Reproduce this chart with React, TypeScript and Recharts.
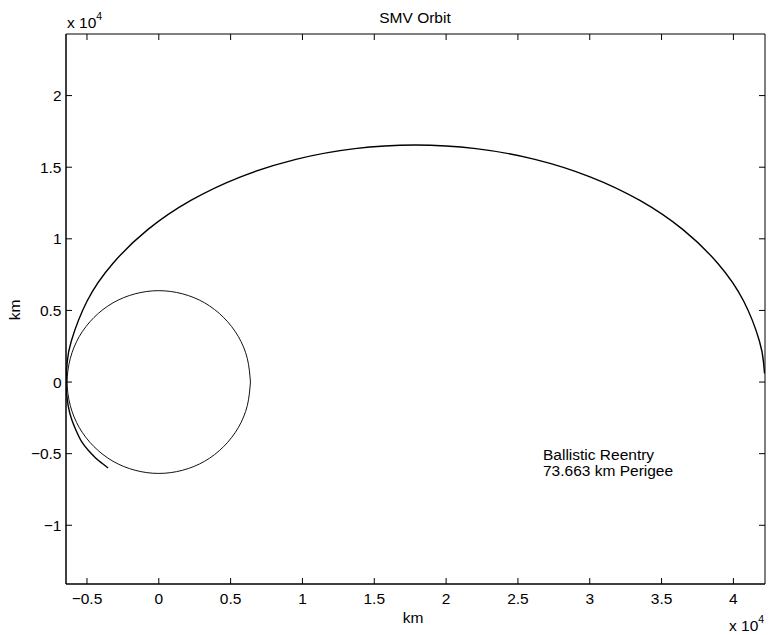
import { LineChart, Line, XAxis, YAxis, ReferenceArea } from 'recharts';

// orbit track (x 10^4 km), from near apogee over the top, through perigee, down the reentry tail
const orbitX = [4.217, 4.209, 4.181, 4.071, 3.892, 3.649, 3.349, 3.002, 2.618, 2.208, 1.786, 1.364, 0.954, 0.57, 0.223, -0.077, -0.32, -0.499, -0.609, -0.637, -0.646, -0.642, -0.63, -0.607, -0.575, -0.535, -0.488, -0.44, -0.395, -0.353];
const orbitY = [0.06, 0.144, 0.287, 0.566, 0.828, 1.064, 1.268, 1.433, 1.555, 1.63, 1.655, 1.63, 1.555, 1.433, 1.268, 1.064, 0.828, 0.566, 0.287, 0.144, 0, -0.08, -0.17, -0.26, -0.34, -0.42, -0.48, -0.53, -0.567, -0.6];

// earth outline (x 10^4 km)
const earthX = [0.638, 0.616, 0.553, 0.451, 0.319, 0.165, 0, -0.165, -0.319, -0.451, -0.553, -0.616, -0.638, -0.616, -0.553, -0.451, -0.319, -0.165, 0, 0.165, 0.319, 0.451, 0.553, 0.616, 0.638];
const earthY = [0, 0.165, 0.319, 0.451, 0.553, 0.616, 0.638, 0.616, 0.553, 0.451, 0.319, 0.165, 0, -0.165, -0.319, -0.451, -0.553, -0.616, -0.638, -0.616, -0.553, -0.451, -0.319, -0.165, 0];

const xTicks = [-0.5, 0, 0.5, 1, 1.5, 2, 2.5, 3, 3.5, 4];
const yTicks = [-1, -0.5, 0, 0.5, 1, 1.5, 2];
const xDomain: [number, number] = [-0.646, 4.22];
const yDomain: [number, number] = [-1.41, 2.43];

const noteLines = ['Ballistic Reentry', '73.663 km Perigee'];

const W = 769;
const H = 635;
const PLOT_TOP = 34;
const PLOT_RIGHT = 765;
const FONT = '"Liberation Sans", Arial, Helvetica, sans-serif';
const FS = 15.5;

const orbit = orbitX.map((x, i) => ({ x, y: orbitY[i] }));
const earth = earthX.map((x, i) => ({ x, y: earthY[i] }));

const fmt = (v: number) => (v < 0 ? '\u2212' + String(-v) : String(v));

const XTick = ({ x, y, payload }: any) => (
  <g>
    <line x1={x} x2={x} y1={y} y2={y - 6} stroke="#000" />
    <line x1={x} x2={x} y1={PLOT_TOP} y2={PLOT_TOP + 6} stroke="#000" />
    <text x={x} y={y + 20} textAnchor="middle" fontFamily={FONT} fontSize={FS} fill="#000">
      {fmt(payload.value)}
    </text>
  </g>
);

const YTick = ({ x, y, payload }: any) => (
  <g>
    <line x1={x} x2={x + 6} y1={y} y2={y} stroke="#000" />
    <line x1={PLOT_RIGHT - 6} x2={PLOT_RIGHT} y1={y} y2={y} stroke="#000" />
    <text x={x - 4.5} y={y + 5.5} textAnchor="end" fontFamily={FONT} fontSize={FS} fill="#000">
      {fmt(payload.value)}
    </text>
  </g>
);

export default function App() {
  return (
    <div style={{ position: 'relative', width: W, height: H, background: '#fff' }}>
      <style>{`body{margin:0}`}</style>
      <LineChart width={W} height={H} margin={{ top: PLOT_TOP, right: W - PLOT_RIGHT, bottom: 0, left: 0 }}>
        <XAxis
          dataKey="x"
          type="number"
          domain={xDomain}
          allowDataOverflow
          ticks={xTicks}
          tick={<XTick />}
          tickLine={false}
          tickSize={0}
          tickMargin={0}
          height={51}
          axisLine={{ stroke: '#000' }}
        />
        <YAxis
          dataKey="y"
          type="number"
          domain={yDomain}
          allowDataOverflow
          ticks={yTicks}
          tick={<YTick />}
          tickLine={false}
          tickSize={0}
          tickMargin={0}
          width={66}
          axisLine={{ stroke: '#000' }}
        />
        <ReferenceArea x1={xDomain[0]} x2={xDomain[1]} y1={yDomain[0]} y2={yDomain[1]} fill="none" stroke="#000" ifOverflow="visible" />
        <Line data={earth} dataKey="y" type="natural" stroke="#111" strokeWidth={1} dot={false} isAnimationActive={false} />
        <Line data={orbit} dataKey="y" type="natural" stroke="#000" strokeWidth={1.4} dot={false} isAnimationActive={false} />
      </LineChart>
      <svg width={W} height={H} style={{ position: 'absolute', left: 0, top: 0, pointerEvents: 'none' }} fontFamily={FONT} fontSize={FS} fill="#000">
        <text x={415} y={23} textAnchor="middle">SMV Orbit</text>
        <text x={67} y={28}>
          x 10<tspan fontSize={10.5} dy={-8}>4</tspan>
        </text>
        <text x={729} y={631}>
          x 10<tspan fontSize={10.5} dy={-8}>4</tspan>
        </text>
        <text x={413} y={623} textAnchor="middle">km</text>
        <text transform="translate(20,310) rotate(-90)" textAnchor="middle">km</text>
        {noteLines.map((t, i) => (
          <text key={t} x={543} y={460 + i * 16}>{t}</text>
        ))}
      </svg>
    </div>
  );
}
